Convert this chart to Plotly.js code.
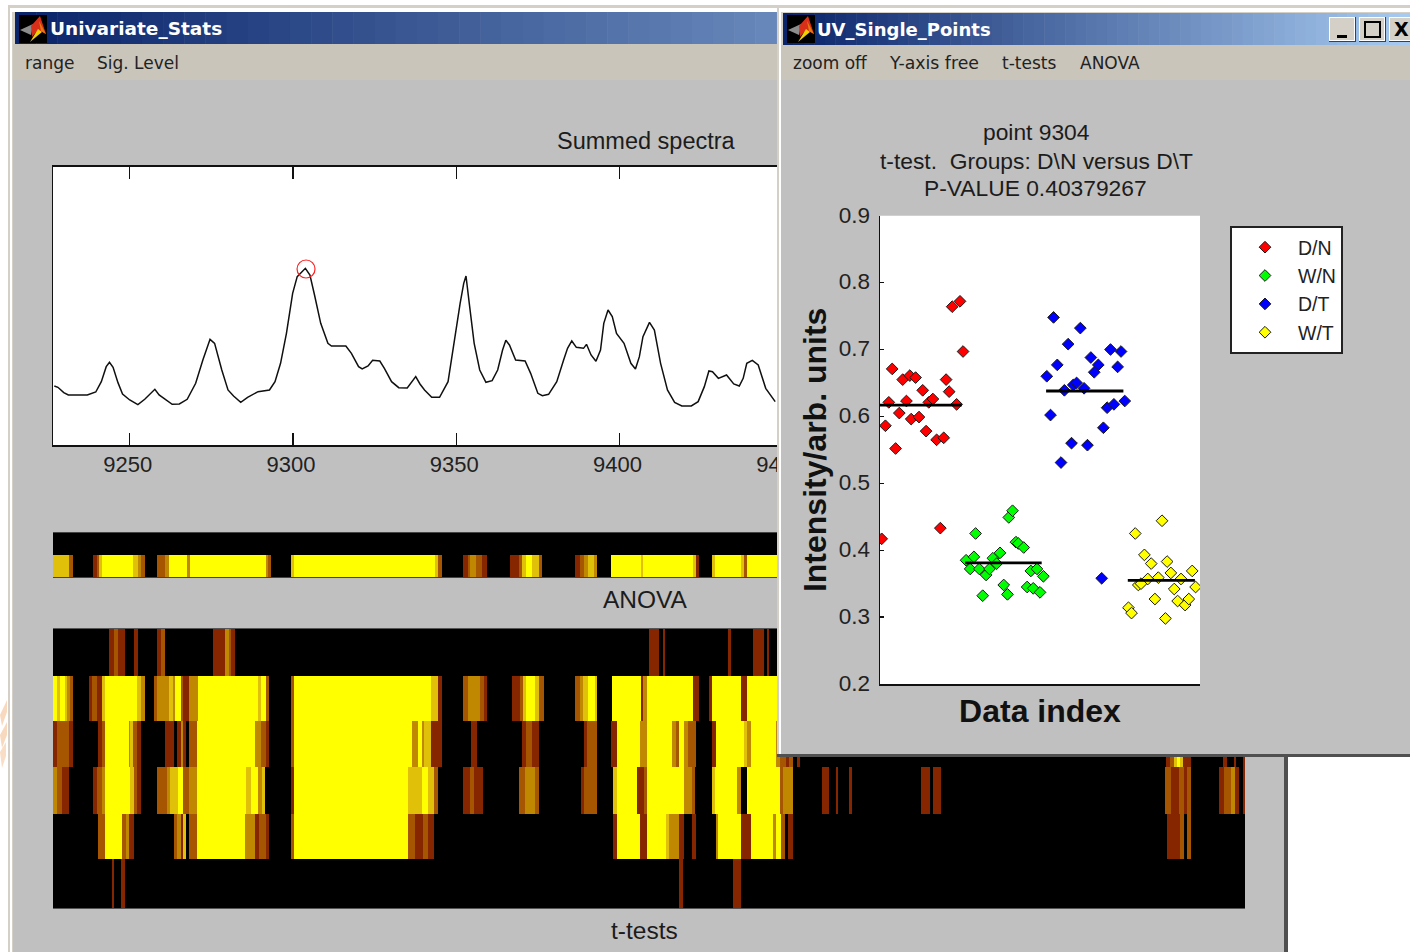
<!DOCTYPE html>
<html><head><meta charset="utf-8">
<script src="https://cdn.plot.ly/plotly-3.0.1.min.js"></script>
<style>
html,body{margin:0;padding:0;background:#fff;overflow:hidden}
#main,#front{position:absolute;left:0;top:0;width:1410px;height:952px}
</style></head><body>
<div id="main"></div><div id="front"></div>
<script>
// ---------- spectrum ----------
const spectrumMz = [9226.9,9228.0,9229.8,9231.2,9237.0,9239.6,9241.3,9242.8,9243.8,9244.9,9246.4,9247.8,9250.0,9252.5,9254.6,9257.7,9259.0,9260.8,9263.0,9265.2,9267.6,9270.2,9272.4,9274.6,9276.0,9278.2,9280.1,9281.8,9284.0,9286.1,9289.3,9292.8,9294.5,9296.2,9298.0,9299.9,9301.3,9303.8,9305.2,9306.6,9308.5,9310.7,9311.8,9316.2,9317.9,9320.1,9321.2,9323.0,9324.4,9326.6,9328.0,9330.2,9332.4,9335.0,9336.0,9337.6,9338.9,9340.3,9342.5,9344.9,9347.5,9349.4,9351.2,9352.3,9353.0,9354.0,9355.5,9357.2,9359.1,9361.0,9362.7,9364.2,9365.2,9366.3,9368.2,9371.1,9372.8,9375.0,9376.4,9378.3,9380.8,9382.9,9384.1,9385.4,9386.8,9389.0,9389.9,9391.3,9392.8,9394.2,9395.2,9396.5,9397.8,9399.1,9401.4,9403.5,9404.9,9406.1,9407.2,9409.2,9410.7,9412.6,9414.7,9416.9,9419.1,9422.0,9424.1,9426.0,9427.4,9428.5,9430.3,9432.8,9435.0,9436.7,9437.9,9439.0,9440.7,9442.5,9444.8,9447.7];
const spectrumSum = [178,174,158,151,151,160,191,236,249,234,188,154,136,122,138,168,151,138,123,124,138,186,256,318,306,226,166,148,129,144,161,166,191,246,336,456,506,531,511,451,366,306,298,298,276,236,229,238,255,253,231,191,173,172,184,206,184,166,144,144,191,316,426,486,508,426,306,226,189,194,226,286,315,301,256,253,216,156,149,153,191,256,291,313,294,291,303,271,252,286,366,406,386,336,306,246,229,266,326,369,346,246,166,129,118,118,131,176,223,221,201,211,184,178,201,246,255,241,171,131];
const selectedMz = [9304];
const selectedSum = [529];
const spectrumTicks = [9250,9300,9350,9400,9450,9500,9550];

// ---------- significance maps: [first column, last column, level] ----------
const anovaBlankRow = [];
const anovaRow = [[0,16,4],[16,20,2],[40,44,1],[44,46,2],[46,49,4],[49,80,5],[80,85,4],[85,88,3],[88,92,2],[104,112,2],[112,116,3],[116,134,5],[134,137,3],[137,213,5],[213,215,3],[215,218,2],[238,241,4],[241,382,5],[382,385,4],[385,389,2],[410,415,1],[415,417,2],[417,423,3],[423,429,2],[429,434,1],[457,466,1],[466,469,2],[469,473,4],[473,479,5],[479,486,4],[486,489,2],[522,527,1],[527,531,2],[531,535,3],[535,541,4],[541,544,3],[558,588,5],[588,590,4],[590,640,5],[640,643,4],[643,646,1],[659,662,4],[662,688,5],[688,691,4],[691,694,2],[694,760,5]];
const ttestRow1 = [[56,61,1],[61,65,2],[65,72,1],[81,85,1],[104,108,1],[108,112,2],[160,172,1],[172,176,3],[176,178,2],[178,182,1],[596,606,1],[610,612,1],[675,678,1],[700,711,1],[714,716,1]];
const ttestRow2 = [[0,4,5],[4,7,4],[7,12,5],[12,14,4],[14,17,3],[17,20,2],[36,39,1],[39,44,2],[44,49,1],[49,52,4],[52,84,5],[84,88,4],[88,92,3],[101,104,2],[104,116,3],[116,120,4],[120,122,3],[122,128,5],[128,130,2],[130,136,1],[136,145,3],[145,205,5],[205,208,4],[208,213,5],[213,216,2],[238,241,2],[241,378,5],[378,385,4],[385,389,1],[410,415,2],[415,427,3],[427,431,2],[431,434,1],[459,467,1],[467,470,2],[470,473,4],[473,482,5],[482,486,4],[486,491,2],[522,527,2],[527,530,3],[530,535,4],[535,542,5],[542,544,4],[559,588,5],[588,590,1],[590,594,3],[594,640,5],[640,646,1],[656,659,1],[659,688,5],[688,694,1],[694,760,5]];
const ttestRow3 = [[0,4,1],[4,16,2],[16,20,1],[45,49,1],[49,52,2],[52,76,5],[76,77,3],[77,80,4],[80,84,2],[84,88,1],[112,121,1],[124,128,1],[128,130,3],[130,133,1],[136,144,2],[144,202,5],[202,208,3],[208,213,2],[213,216,1],[238,241,2],[241,359,5],[359,365,3],[365,369,5],[369,371,3],[371,378,4],[378,389,1],[418,424,1],[469,473,1],[473,479,2],[479,486,1],[531,534,1],[534,544,2],[558,564,1],[564,587,5],[587,594,3],[594,619,5],[619,623,3],[623,626,2],[626,631,5],[631,635,3],[635,643,2],[659,663,1],[663,691,5],[691,694,4],[694,698,3],[698,723,5],[723,727,3],[727,733,2],[733,736,1],[736,740,2],[744,747,1],[1113,1117,1],[1117,1121,2],[1121,1124,4],[1124,1127,5],[1127,1130,4],[1130,1138,1],[1170,1174,1],[1181,1183,1],[1190,1192,1]];
const ttestRow4 = [[0,4,3],[4,9,2],[9,16,1],[40,44,1],[44,49,2],[49,52,3],[52,77,5],[77,81,4],[81,84,2],[84,88,1],[104,114,2],[114,117,3],[117,125,4],[125,130,5],[130,136,2],[136,144,3],[144,193,5],[193,198,4],[198,205,5],[205,209,3],[209,212,4],[238,241,1],[241,355,5],[355,369,4],[369,375,5],[375,381,4],[381,385,2],[410,417,1],[417,421,2],[421,430,1],[466,472,2],[472,482,3],[482,486,2],[528,531,1],[531,544,2],[560,564,4],[564,584,5],[584,591,1],[591,594,2],[594,631,5],[631,639,3],[639,642,2],[659,662,4],[662,684,5],[684,688,3],[694,727,5],[727,730,2],[730,740,3],[769,776,1],[783,785,1],[796,799,1],[868,877,1],[880,888,1],[1112,1118,2],[1118,1126,1],[1126,1131,2],[1131,1134,1],[1134,1138,2],[1166,1171,1],[1171,1178,2],[1178,1182,3],[1182,1186,1],[1190,1192,1]];
const ttestRow5 = [[45,52,2],[52,69,5],[69,73,2],[73,76,3],[76,81,1],[121,124,2],[124,128,3],[128,130,1],[130,133,4],[136,144,2],[144,192,5],[192,202,3],[202,206,1],[206,213,2],[213,216,1],[238,241,2],[241,355,5],[355,362,2],[362,370,1],[370,375,2],[375,381,1],[560,564,1],[564,587,5],[587,594,1],[594,613,5],[613,616,4],[616,626,3],[626,631,1],[639,643,1],[663,665,3],[665,688,5],[688,698,1],[698,720,5],[720,723,3],[723,728,5],[728,732,2],[735,740,1],[1114,1127,1],[1127,1131,2],[1134,1138,2]];
const ttestRow6 = [[59,61,1],[68,72,1],[626,630,1],[680,688,1]];
const anovaRowEdges = [0,22,44];
const ttestRowEdges = [0,47,92,138,185,230,279];
const columnCount = 1192;
const levelColors = ['#000000','#862600','#a65600','#c08800','#e0c008','#ffff00'];

// ---------- single-point scatter ----------
const dnIndex = [1.0,2.1,3.1,4.1,5.1,6.2,7.2,8.3,9.3,9.7,11.0,12.0,13.1,14.1,14.9,16.1,17.2,18.3,19.3,20.0,20.9,21.8,23.1,24.1,25.0];
const dnValue = [0.417,0.586,0.621,0.671,0.552,0.605,0.655,0.623,0.661,0.596,0.658,0.599,0.639,0.578,0.621,0.626,0.565,0.433,0.568,0.655,0.637,0.764,0.618,0.772,0.697];
const wnIndex = [25.9,27.1,28.2,28.7,29.8,30.8,31.8,32.8,33.8,34.9,35.9,37.0,38.1,38.5,39.6,40.6,41.3,42.9,43.9,45.0,45.7,46.8,47.7,48.7];
const wnValue = [0.385,0.372,0.390,0.425,0.372,0.332,0.363,0.372,0.388,0.380,0.396,0.348,0.334,0.449,0.459,0.412,0.410,0.404,0.345,0.369,0.343,0.372,0.337,0.361];
const dtIndex = [49.7,50.8,51.7,52.8,53.9,54.9,56.0,57.0,57.5,58.5,59.6,60.7,61.7,62.7,63.7,64.9,65.9,66.4,67.5,68.5,69.5,70.6,71.6,72.7];
const dtValue = [0.660,0.602,0.748,0.677,0.531,0.639,0.708,0.560,0.647,0.650,0.732,0.642,0.557,0.688,0.666,0.677,0.358,0.583,0.613,0.700,0.618,0.674,0.697,0.623];
const wtIndex = [73.8,74.7,75.8,76.7,77.5,78.5,79.5,80.5,81.6,82.6,83.7,84.7,85.2,86.3,87.3,88.3,89.3,90.5,91.6,92.6,93.6];
const wtValue = [0.314,0.306,0.425,0.348,0.350,0.393,0.357,0.380,0.327,0.359,0.444,0.298,0.383,0.366,0.342,0.324,0.357,0.318,0.327,0.369,0.345];
const groupNames = ['D/N','W/N','D/T','W/T'];
const groupColors = ['#ff0000','#00ff00','#0000ff','#ffff00'];
const groupSpan = [[0.5,24.6],[25.6,48.2],[49.5,72.3],[73.6,93.4]];
const groupMean = [0.617,0.381,0.638,0.355];
const valueTicks = [0.2,0.3,0.4,0.5,0.6,0.7,0.8,0.9];

// ---------- helpers (page geometry) ----------
const W = 1410, H = 952;
const px = v => v / W, py = v => 1 - v / H;
const FONT = '"Liberation Sans", Arial, sans-serif';
const UI = '"DejaVu Sans", sans-serif';
const rect = (x0,y0,x1,y1,c) => ({type:'rect',xref:'paper',yref:'paper',layer:'below',x0:px(x0),x1:px(x1),y0:py(y0),y1:py(y1),fillcolor:c,line:{width:0}});
const poly = (pts,c) => ({type:'path',xref:'paper',yref:'paper',layer:'below',fillcolor:c,line:{width:0},
  path:'M'+pts.map(p=>px(p[0])+','+py(p[1])).join('L')+'Z'});
const text = (t,x,y,size,o={}) => Object.assign({text:t,xref:'paper',yref:'paper',x:px(x),y:py(y),showarrow:false,xanchor:'center',yanchor:'middle',font:{family:FONT,size:size,color:'#1c1c1c'}},o);
const left = (t,x,y,size,color,bold) => text(bold?'<b>'+t+'</b>':t,x,y,size,{xanchor:'left',font:{family:UI,size:size,color:color}});
const mix = (a,b,f) => 'rgb('+a.map((v,i)=>Math.round(v+(b[i]-v)*f)).join(',')+')';
function titleBar(x0,x1,y0,y1,c0,c1){
  const out=[], n=60;
  for(let i=0;i<n;i++){
    const a=x0+(x1-x0)*i/n, b=x0+(x1-x0)*(i+1)/n;
    out.push(rect(a,y0,b+0.5,y1,mix(c0,c1,i/(n-1))));
  }
  return out;
}
function logo(x,y){
  return [rect(x,y,x+28,y+28,'#000000'),
    poly([[x+1,y+15],[x+14,y+9],[x+12,y+20]],'#8c8c8c'),
    poly([[x+12,y+11],[x+21,y+1],[x+27,y+19],[x+19,y+15],[x+13,y+22]],'#d83018'),
    poly([[x+11,y+27],[x+19,y+14],[x+23,y+17]],'#f0d000'),
    poly([[x+20,y+6],[x+27,y+19],[x+22,y+16]],'#e87810')];
}
function heatTrace(rows,edges,xa,ya){
  const cuts=new Set([0,columnCount]);
  rows.forEach(r=>r.forEach(s=>{cuts.add(s[0]);cuts.add(s[1]);}));
  const x=[...cuts].sort((a,b)=>a-b);
  const z=rows.map(r=>x.slice(0,-1).map((c,i)=>{
    const mid=(c+x[i+1])/2, seg=r.find(s=>s[0]<=mid&&mid<s[1]);
    return seg?seg[2]:0;
  }));
  return {type:'heatmap',x:x,y:edges,z:z,zmin:0,zmax:5,xaxis:xa,yaxis:ya,showscale:false,hoverinfo:'skip',
    colorscale:levelColors.map((c,i)=>[i/5,c])};
}

// ---------- back window ----------
const plainAxis = (d,a,range,extra) => Object.assign({domain:d,anchor:a,range:range,fixedrange:true,showgrid:false,zeroline:false,showticklabels:false,ticks:'',showline:false},extra||{});
const backShapes = [
  rect(8,5,1288,952,'#d4d0c8'), rect(10,8,1284,952,'#ffffff'),
  rect(12,12,1284,952,'#d4d0c8'), rect(1284,7,1288,952,'#505050'),
  ...titleBar(15,1284,12,44,[10,36,106],[166,202,240]),
  rect(13,44,1284,80,'#c9c5bb'), rect(13,80,1284,952,'#c0c0c0'),
  ...logo(19,15),
  rect(53,166.7,1245,445.3,'#ffffff'),
  poly([[0,715],[7,700],[7,712],[2,726]],'rgba(240,170,110,0.45)'),
  poly([[0,735],[7,722],[7,735],[2,748]],'rgba(240,170,110,0.45)'),
  poly([[0,752],[6,742],[6,756],[2,768]],'rgba(240,170,110,0.4)')
];
const backTraces = [
  {type:'scatter',mode:'lines',x:spectrumMz,y:spectrumSum,line:{color:'#101010',width:1.5},hoverinfo:'skip',showlegend:false},
  {type:'scatter',mode:'markers',x:selectedMz,y:selectedSum,marker:{symbol:'circle-open',size:18,color:'#ff2020',line:{width:1.2,color:'#ff2020'}},hoverinfo:'skip',showlegend:false},
  heatTrace([anovaBlankRow,anovaRow],anovaRowEdges,'x2','y2'),
  heatTrace([ttestRow1,ttestRow2,ttestRow3,ttestRow4,ttestRow5,ttestRow6],ttestRowEdges,'x3','y3')
];
const backLayout = {
  width:W,height:H,margin:{l:0,r:0,t:0,b:0,autoexpand:false},paper_bgcolor:'#ffffff',plot_bgcolor:'rgba(0,0,0,0)',showlegend:false,
  font:{family:FONT,color:'#1c1c1c'},
  shapes:backShapes,
  xaxis:{domain:[px(53),px(1245)],anchor:'y',range:[9226.5,9591.6],fixedrange:true,showgrid:false,zeroline:false,
    tickmode:'array',tickvals:spectrumTicks,ticktext:spectrumTicks.map(String),ticks:'inside',ticklen:12,tickwidth:1.4,tickcolor:'#111',
    showline:true,linecolor:'#111',linewidth:1.5,mirror:'allticks',tickfont:{family:FONT,size:22,color:'#222'},ticklabelstandoff:-1,ticklabelshift:-2},
  yaxis:{domain:[py(445.3),py(166.7)],anchor:'x',range:[0,836],fixedrange:true,showgrid:false,zeroline:false,showticklabels:false,ticks:'',
    showline:true,linecolor:'#111',linewidth:1.5,mirror:true},
  xaxis2:plainAxis([px(53),px(1245)],'y2',[0,columnCount],{showline:true,linecolor:'#444',linewidth:1,mirror:true}),
  yaxis2:plainAxis([py(577),py(533)],'x2',[44,0]),
  xaxis3:plainAxis([px(53),px(1245)],'y3',[0,columnCount],{showline:true,linecolor:'#555',linewidth:1,mirror:true}),
  yaxis3:plainAxis([py(908),py(629)],'x3',[279,0]),
  annotations:[
    left('Univariate_Stats',48,28,18.5,'#ffffff',true),
    left('range',23,63,17,'#222222'), left('Sig. Level',95,63,17,'#222222'),
    text('Summed spectra',646,141,23.5),
    text('ANOVA',645,599,24.5),
    text('t-tests',644,930,24.5)
  ]
};

// ---------- front window ----------
const button=(x0,x1)=>[rect(x0,17,x1,42,'#404040'),rect(x0,17,x1-1,41,'#ffffff'),rect(x0+1,18,x1-2,40,'#d4d0c8')];
const frontShapes = [
  rect(777,5,1410,757,'#d4d0c8'), rect(779,8,1410,754,'#ffffff'), rect(781,12,1410,754,'#d4d0c8'),
  rect(777,754,1410,757,'#505050'),
  ...titleBar(783,1410,13,45,[10,36,106],[166,202,240]),
  rect(781,45,1410,80,'#c9c5bb'), rect(781,80,1410,754,'#c0c0c0'),
  ...logo(787,15),
  rect(880,215.7,1200,684,'#ffffff'),
  ...button(1329,1356), ...button(1359,1386), ...button(1389,1412),
  rect(1337,35,1347,38,'#000000'),
  {type:'rect',xref:'paper',yref:'paper',layer:'below',x0:px(1365),x1:px(1380),y0:py(37),y1:py(22),line:{color:'#000',width:2}}
];
const groups=[[dnIndex,dnValue],[wnIndex,wnValue],[dtIndex,dtValue],[wtIndex,wtValue]];
const frontTraces = groups.map((g,i)=>({type:'scatter',mode:'markers',name:groupNames[i],x:g[0],y:g[1],hoverinfo:'skip',
    marker:{symbol:'diamond',size:9,color:groupColors[i],line:{color:'#1a1a1a',width:1}}}))
  .concat(groups.map((g,i)=>({type:'scatter',mode:'lines',x:groupSpan[i],y:[groupMean[i],groupMean[i]],line:{color:'#000',width:2.8},showlegend:false,hoverinfo:'skip'})));
const frontLayout = {
  width:W,height:H,margin:{l:0,r:0,t:0,b:0,autoexpand:false},paper_bgcolor:'rgba(0,0,0,0)',plot_bgcolor:'rgba(0,0,0,0)',
  font:{family:FONT,color:'#1c1c1c'},shapes:frontShapes,showlegend:true,
  legend:{x:px(1230),y:py(226),xanchor:'left',yanchor:'top',bgcolor:'#ffffff',bordercolor:'#222',borderwidth:2,font:{family:FONT,size:19.5,color:'#222'},itemwidth:56,itemsizing:'trace',traceorder:'normal',tracegroupgap:0,entrywidth:78,entrywidthmode:'pixels'},
  xaxis:{domain:[px(880),px(1200)],anchor:'y',range:[0.5,94.9],fixedrange:true,showgrid:false,zeroline:false,showticklabels:false,ticks:'',automargin:true,
    showline:true,linecolor:'#111',linewidth:1.5,title:{text:'<b>Data index</b>',font:{family:FONT,size:32,color:'#111'},standoff:15}},
  yaxis:{domain:[py(684),py(215.7)],anchor:'x',range:[0.2,0.9],fixedrange:true,showgrid:false,zeroline:false,automargin:true,
    tickmode:'array',tickvals:valueTicks,ticktext:valueTicks.map(v=>v.toFixed(1)),ticks:'inside',ticklen:4,tickwidth:1.4,tickcolor:'#111',
    showline:true,linecolor:'#111',linewidth:1.5,tickfont:{family:FONT,size:22.5,color:'#222'},ticklabelstandoff:4,ticklabelshift:-1,
    title:{text:'<b>Intensity/arb. units</b>',font:{family:FONT,size:32,color:'#111'},standoff:2}},
  annotations:[
    left('UV_Single_Points',815,29,18,'#ffffff',true),
    left('zoom off',791,63,17,'#222222'), left('Y-axis free',887,63,17.3,'#222222'),
    left('t-tests',1000,63,17,'#222222'), left('ANOVA',1078,63,17,'#222222'),
    text('point 9304',1036,132,22.8),
    text('t-test.\u00a0 Groups: D\\N versus D\\T',1036,160.5,22.8),
    text('P-VALUE 0.40379267',1035,188,22.8),
    text('<b>X</b>',1401,29,19,{font:{family:UI,size:19,color:'#000'}})
  ]
};
Plotly.newPlot('main',backTraces,backLayout,{displayModeBar:false,staticPlot:true});
Plotly.newPlot('front',frontTraces,frontLayout,{displayModeBar:false,staticPlot:true});
</script></body></html>
